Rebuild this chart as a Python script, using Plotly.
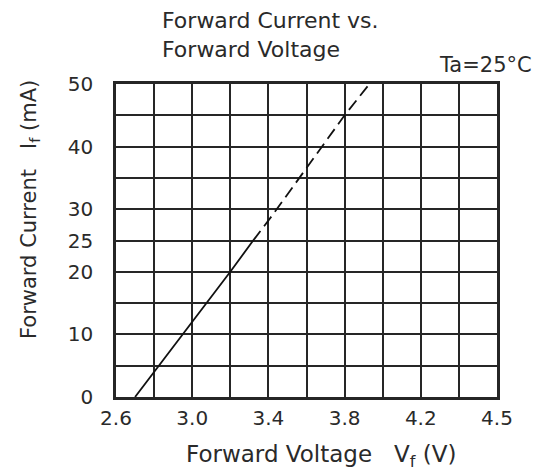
import plotly.graph_objects as go

# Data
v_solid = [2.70, 3.20, 3.32]
i_solid = [0, 20, 25]
v_dash = [3.32, 3.42, 3.80, 3.93]
i_dash = [25, 29, 45, 50]

x_tickvals = [2.6, 3.0, 3.4, 3.8, 4.2, 4.6]
x_ticktext = ["2.6", "3.0", "3.4", "3.8", "4.2", "4.5"]
y_tickvals = [0, 10, 20, 25, 30, 40, 50]
y_ticktext = ["0", "10", "20", "25", "30", "40", "50"]

FONT = "DejaVu Sans"
TXT = "#2a2a2a"
GRID = "#262626"

fig = go.Figure()
fig.add_trace(go.Scatter(x=v_solid, y=i_solid, mode="lines",
                         line=dict(color="#111", width=1.8), showlegend=False))
fig.add_trace(go.Scatter(x=v_dash, y=i_dash, mode="lines",
                         line=dict(color="#111", width=1.8, dash="12px,6px"), showlegend=False))

axis_common = dict(showgrid=True, gridcolor=GRID, gridwidth=2.2, zeroline=False,
                   showline=True, linecolor=GRID, linewidth=2.5, mirror=True,
                   ticks="", tickfont=dict(family=FONT, size=20, color=TXT))

fig.update_xaxes(range=[2.6, 4.6], tickmode="array", tickvals=x_tickvals,
                 ticktext=x_ticktext, ticklabelstandoff=1,
                 minor=dict(tickmode="linear", tick0=2.6, dtick=0.2, showgrid=True,
                            gridcolor=GRID, gridwidth=2.2, ticks=""),
                 **axis_common)
fig.update_yaxes(range=[0, 50], tickmode="array", tickvals=y_tickvals,
                 ticktext=y_ticktext, ticklabelstandoff=16,
                 minor=dict(tickmode="linear", tick0=0, dtick=5, showgrid=True,
                            gridcolor=GRID, gridwidth=2.2, ticks=""),
                 **axis_common)

fig.update_layout(
    width=539, height=474,
    margin=dict(l=116, r=42, t=84, b=77),
    paper_bgcolor="white", plot_bgcolor="white",
    annotations=[
        dict(text="Forward Current vs.<br>Forward Voltage", xref="paper", yref="paper",
             x=(160 - 116) / 381, y=1 + (84 - 6) / 313, xanchor="left", yanchor="top",
             align="left", showarrow=False,
             font=dict(family=FONT, size=22, color=TXT)),
        dict(text="Ta=25°C", xref="paper", yref="paper",
             x=1 + (534 - 497) / 381, y=1 + (84 - 65) / 313, xanchor="right", yanchor="middle",
             showarrow=False, font=dict(family=FONT, size=21, color=TXT)),
        dict(text="Forward Voltage   V<sub>f</sub> (V)", xref="paper", yref="paper",
             x=(321 - 116) / 381, y=-(456 - 397) / 313, xanchor="center", yanchor="middle",
             showarrow=False, font=dict(family=FONT, size=23, color=TXT)),
        dict(text="Forward Current   I<sub>f</sub> (mA)", xref="paper", yref="paper",
             x=-(116 - 30) / 381, y=(397 - 210) / 313, xanchor="center", yanchor="middle",
             textangle=-90, showarrow=False, font=dict(family=FONT, size=21, color=TXT)),
    ],
)

fig.write_html("out.html", config={"displayModeBar": False},
               post_script="document.body.style.margin='0';")
